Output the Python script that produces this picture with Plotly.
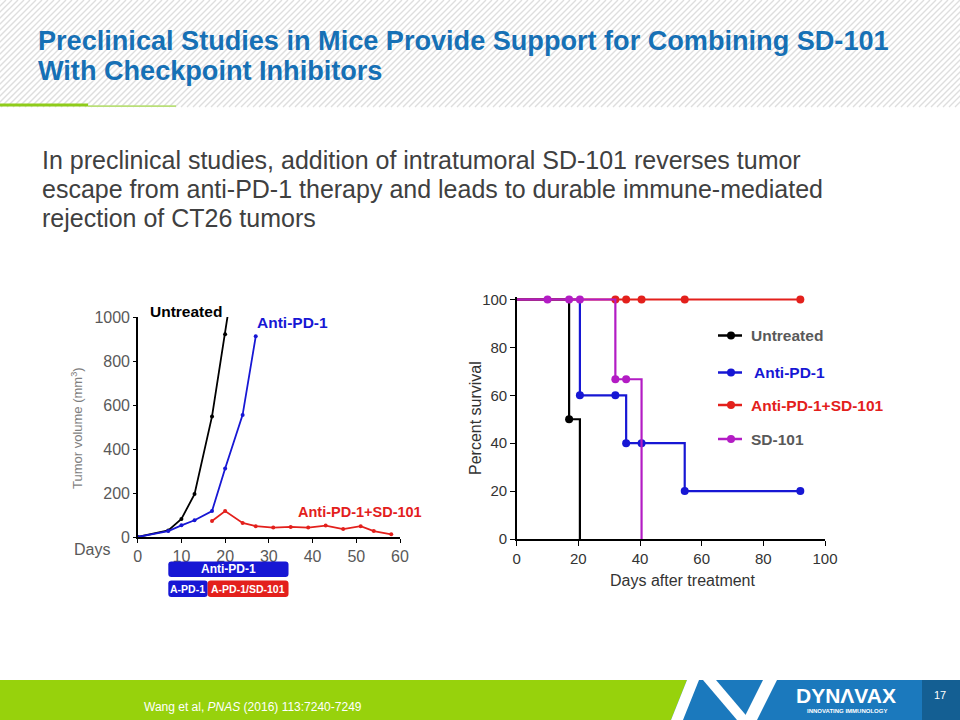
import plotly.graph_objects as go

# ---------------- Data ----------------
# Tumor volume chart (left)
untreated_days = [0, 7, 10, 13, 17, 20, 21]
untreated_vol = [0, 30, 82, 195, 548, 922, 1060]
anti_days = [0, 7, 10, 13, 17, 20, 24, 27]
anti_vol = [0, 27, 53, 76, 118, 311, 555, 912]
combo_days = [17, 20, 24, 27, 31, 35, 39, 43, 47, 51, 54, 58]
combo_vol = [73, 118, 64, 49, 43, 46, 43, 52, 36, 49, 27, 12]
tv_xticks = [0, 10, 20, 30, 40, 50, 60]
tv_yticks = [0, 200, 400, 600, 800, 1000]

# Treatment schedule bars (days)
sched_labels = ["Anti-PD-1", "A-PD-1", "A-PD-1/SD-101"]
sched_start = [7, 7, 16]
sched_end = [34.5, 16, 34.5]
sched_row = [0, 1, 1]

# Survival chart (right): step lines
surv_names = ["Untreated", "Anti-PD-1", "Anti-PD-1+SD-101", "SD-101"]
surv_t = [[0, 17, 20.5], [0, 20.5, 35.5, 54.5, 92], [0, 92], [0, 32, 40.5]]
surv_p = [[100, 50, 0], [100, 60, 40, 20, 20], [100, 100], [100, 66.7, 0]]
# markers
mark_t = [[17], [20.5, 32, 35.5, 40.5, 54.5, 92], [32, 35.5, 40.5, 54.5, 92], [10, 17, 20.5, 32, 35.5]]
mark_p = [[50], [60, 60, 40, 40, 20, 20], [100, 100, 100, 100, 100], [100, 100, 100, 66.7, 66.7]]
surv_ticks = [0, 20, 40, 60, 80, 100]

# ---------------- Styles ----------------
BLACK = "#000000"
BLUE = "#1717d4"
RED = "#e3201c"
MAG = "#b31cc4"
surv_colors = [BLACK, BLUE, RED, MAG]
legend_text_colors = ["#595959", BLUE, RED, "#595959"]
TITLE_BLUE = "#1670b5"
GREEN = "#97d20c"
FOOT_BLUE = "#1b79bd"
FOOT_DARK = "#145f93"
W, H = 960, 720
ARIAL = "Liberation Sans, Arial, sans-serif"


def px(x):
    return x / W


def py(y):
    return 1 - y / H


def text(t, x, y, size, color, xa="center", ya="middle", angle=0, family=ARIAL, xref="paper", yref="paper"):
    return dict(text=t, x=x, y=y, xref=xref, yref=yref, xanchor=xa, yanchor=ya, textangle=angle,
                showarrow=False, font=dict(family=family, size=size, color=color))


fig = go.Figure()

# Left chart traces
for d, v, c in [(untreated_days, untreated_vol, BLACK), (anti_days, anti_vol, BLUE), (combo_days, combo_vol, RED)]:
    fig.add_trace(go.Scatter(x=d, y=v, mode="lines+markers", line=dict(color=c, width=1.8),
                             marker=dict(color=c, size=4), xaxis="x", yaxis="y", showlegend=False,
                             hoverinfo="skip"))

# Right chart traces
for i in range(4):
    fig.add_trace(go.Scatter(x=surv_t[i], y=surv_p[i], mode="lines", line=dict(color=surv_colors[i], width=2.2, shape="hv"),
                             xaxis="x2", yaxis="y2", showlegend=False, cliponaxis=False, hoverinfo="skip"))
    fig.add_trace(go.Scatter(x=mark_t[i], y=mark_p[i], mode="markers", marker=dict(color=surv_colors[i], size=8),
                             xaxis="x2", yaxis="y2", showlegend=False, cliponaxis=False, hoverinfo="skip"))

shapes = []
annotations = []

# ---------- Header hatch ----------
hatch_h = 107
segs = []
x0 = -hatch_h
while x0 < W:
    segs.append(f"M{px(x0):.5f},{py(hatch_h):.5f} L{px(x0 + hatch_h):.5f},{py(0):.5f}")
    x0 += 6
shapes.append(dict(type="path", path=" ".join(segs), xref="paper", yref="paper",
                   line=dict(color="#dedede", width=1.4), layer="below"))
shapes.append(dict(type="rect", xref="paper", yref="paper", x0=px(0), x1=px(88), y0=py(106.5), y1=py(103.5),
                   fillcolor="#8fcc1a", line=dict(width=0), layer="below"))
shapes.append(dict(type="rect", xref="paper", yref="paper", x0=px(88), x1=px(176), y0=py(107), y1=py(105.3),
                   fillcolor="#b9df78", line=dict(width=0), layer="below"))

# ---------- Footer ----------
def poly(pts, color):
    path = "M" + " L".join(f"{px(a):.5f},{py(b):.5f}" for a, b in pts) + " Z"
    return dict(type="path", path=path, xref="paper", yref="paper", fillcolor=color, line=dict(width=0), layer="below")

shapes.append(poly([(660, 680), (922, 680), (922, 720), (660, 720)], FOOT_BLUE))
shapes.append(poly([(922, 680), (960, 680), (960, 720), (922, 720)], FOOT_DARK))
shapes.append(poly([(0, 680), (687, 680), (671, 720), (0, 720)], GREEN))
shapes.append(poly([(687, 680), (699, 680), (683, 720), (671, 720)], "#ffffff"))
shapes.append(poly([(703, 680), (716, 680), (750, 720), (737, 720)], "#ffffff"))
shapes.append(poly([(763, 680), (777, 680), (757, 720), (743, 720)], "#ffffff"))

annotations.append(text("Wang et al, <i>PNAS</i> (2016) 113:7240-7249", px(142), py(707), 12, "white", xa="left"))
annotations.append(text("<b>DYNΛVAX</b>", px(846), py(695), 21, "white"))
annotations.append(text("<b>INNOVATING IMMUNOLOGY</b>", px(847), py(711), 6, "white"))
annotations.append(text("17", px(940), py(695), 11, "white"))

# ---------- Title & body ----------
for txt, yy in [("Preclinical Studies in Mice Provide Support for Combining SD-101", 40),
                ("With Checkpoint Inhibitors", 71)]:
    annotations.append(text(f"<b>{txt}</b>", px(36), py(yy), 27.1, TITLE_BLUE, xa="left"))
for txt, yy in [("In preclinical studies, addition of intratumoral SD-101 reverses tumor", 160),
                ("escape from anti-PD-1 therapy and leads to durable immune-mediated", 189),
                ("rejection of CT26 tumors", 218)]:
    annotations.append(text(txt, px(40), py(yy), 25, "#404040", xa="left"))

# ---------- Left chart labels ----------
annotations.append(text("Tumor volume (mm<sup>3</sup>)", px(77), py(428), 13, "#7f7f7f", angle=-90))
annotations.append(text("Days", px(92), py(549), 16, "#595959"))
annotations.append(text("<b>Untreated</b>", px(186), py(311), 15.5, BLACK))
annotations.append(text("<b>Anti-PD-1</b>", px(292), py(322), 15.5, BLUE))
annotations.append(text("<b>Anti-PD-1+SD-101</b>", px(360), py(512), 14.5, RED))

# Schedule bars
row_y = [(561.5, 577), (580.5, 597)]
sched_colors = [BLUE, BLUE, RED]
rx, ry = 0.7, 3 / H
for lab, s, e, r, c in zip(sched_labels, sched_start, sched_end, sched_row, sched_colors):
    yt, yb = py(row_y[r][0]), py(row_y[r][1])
    path = (f"M{s + rx},{yb} L{e - rx},{yb} Q{e},{yb} {e},{yb + ry} L{e},{yt - ry} Q{e},{yt} {e - rx},{yt} "
            f"L{s + rx},{yt} Q{s},{yt} {s},{yt - ry} L{s},{yb + ry} Q{s},{yb} {s + rx},{yb} Z")
    shapes.append(dict(type="path", path=path, xref="x", yref="paper", fillcolor=c, line=dict(width=0)))
    annotations.append(text(f"<b>{lab}</b>", (s + e) / 2, (yt + yb) / 2, 12 if r == 0 else 10.5, "white", xref="x"))

# ---------- Right chart labels ----------
annotations.append(text("Percent survival", px(475), py(418), 16, "#333333", angle=-90))
annotations.append(text("Days after treatment", px(683), py(580), 16, "#333333"))

leg_y = [335.5, 372.5, 405, 439]
leg_tx = [749, 752, 749, 749]
for name, yy, tx, lc, tc in zip(surv_names, leg_y, leg_tx, surv_colors, legend_text_colors):
    shapes.append(dict(type="line", xref="paper", yref="paper", x0=px(718), x1=px(742), y0=py(yy), y1=py(yy),
                       line=dict(color=lc, width=2.5)))
    shapes.append(dict(type="circle", xref="paper", yref="paper", x0=px(727), x1=px(735), y0=py(yy + 4), y1=py(yy - 4),
                       fillcolor=lc, line=dict(width=0)))
    annotations.append(text(f"<b>{name}</b>", px(tx), py(yy), 15.5, tc, xa="left"))

axis_common = dict(showline=True, linecolor="black", linewidth=1.5, ticks="outside", tickcolor="black",
                   showgrid=False, zeroline=False, fixedrange=True, automargin=False)

# survival y axis: 0 at 539 px, 100 at 299.5 px; range slightly above 100 so the 100% lines are not clipped
s_top = 101
s_top_px = 539 - s_top * (539 - 299.5) / 100

fig.update_layout(
    template="none",
    width=W, height=H, autosize=False, margin=dict(l=0, r=0, t=0, b=0, pad=0, autoexpand=False),
    paper_bgcolor="white", plot_bgcolor="rgba(0,0,0,0)",
    xaxis=dict(domain=[px(137.7), px(400)], range=[0, 60], tickvals=tv_xticks, ticklen=4,
               tickfont=dict(family=ARIAL, size=16, color="#595959"), anchor="y", **axis_common),
    yaxis=dict(domain=[py(537), py(317)], range=[0, 1000], tickvals=tv_yticks, ticklen=3,
               tickfont=dict(family=ARIAL, size=16, color="#595959"), anchor="x", **axis_common),
    xaxis2=dict(domain=[px(516.7), px(825)], range=[0, 100], tickvals=surv_ticks, ticklen=5,
                tickfont=dict(family=ARIAL, size=15, color="#333333"), anchor="y2", **axis_common),
    yaxis2=dict(domain=[py(539), py(s_top_px)], range=[0, s_top], tickvals=surv_ticks, ticklen=5,
                tickfont=dict(family=ARIAL, size=15, color="#333333"), anchor="x2", **axis_common),
    shapes=shapes, annotations=annotations, showlegend=False,
)

post = ("var d=document.getElementById('{plot_id}');"
        "d.style.position='fixed';d.style.left='0px';d.style.top='0px';"
        "document.documentElement.style.margin='0';document.body.style.margin='0';"
        "document.documentElement.style.overflow='hidden';document.body.style.overflow='hidden';")
fig.write_html("out.html", config={"displayModeBar": False, "staticPlot": True}, post_script=post)
